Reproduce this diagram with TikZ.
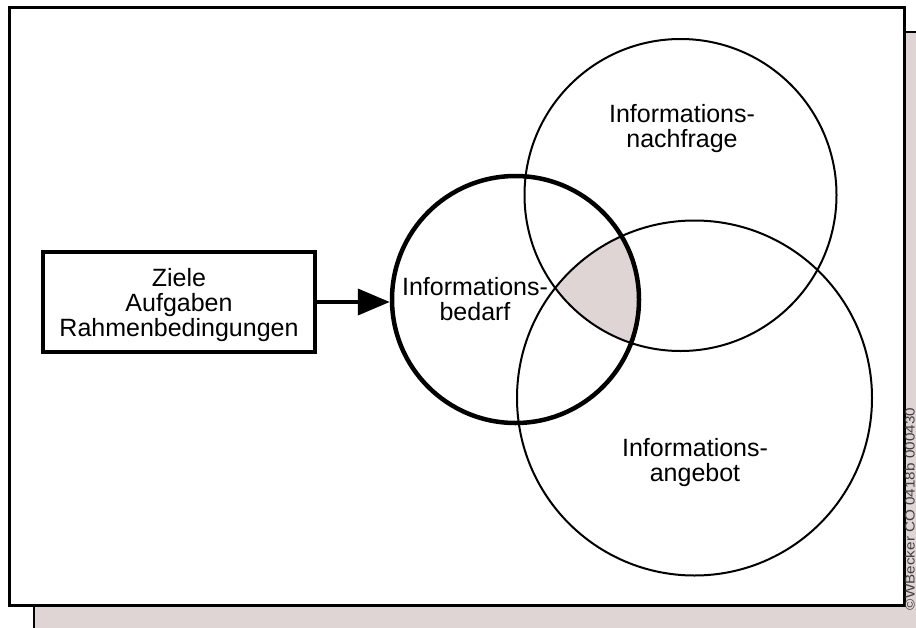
\documentclass[tikz,border=0pt]{standalone}
\usepackage{fontspec}
\setmainfont{Liberation Sans}
\usetikzlibrary{arrows.meta}
\definecolor{pinkfill}{RGB}{224,213,213}
\begin{document}
\begin{tikzpicture}[x=1pt,y=-1pt,
  lbl/.style={font=\fontsize{25}{25}\selectfont, align=center, inner sep=0pt},
  setcirc/.style={circle, draw, line width=2pt, inner sep=0pt},
  boldcirc/.style={circle, draw, line width=4.5pt, inner sep=0pt},
  inbox/.style={draw, line width=4pt, inner sep=0pt, minimum width=272pt, minimum height=100pt},
  conn/.style={line width=4pt, -{Triangle[length=32pt,width=26pt]}}]
\useasboundingbox (0,0) rectangle (916,627);
\clip (0,0) rectangle (916,627);
% shadow and frame
\filldraw[fill=pinkfill, line width=2pt] (33.5,31.5) rectangle (950,660);
\filldraw[fill=white, line width=3pt] (9.5,7) rectangle (904.3,605.5);
% shaded triple intersection
\begin{scope}
  \clip (515.5,299.5) circle (123.5pt);
  \clip (680.5,195) circle (156pt);
  \fill[pinkfill] (694.5,398) circle (177.5pt);
\end{scope}
% circles
\node[setcirc, minimum size=312pt] (nachfrage) at (680.5,195) {};
\node[setcirc, minimum size=355pt] (angebot) at (694.5,398) {};
\node[boldcirc, minimum size=247pt] (bedarf) at (515.5,299.5) {};
% labels
\node[lbl] (tnachfrage) at (682,129) {Informations-\\nachfrage};
\node[lbl] (tbedarf) at (475,299.4) {Informations-\\bedarf};
\node[lbl] (tangebot) at (695,463) {Informations-\\angebot};
% box and arrow
\node[inbox] (box) at (179,302) {};
\node[lbl] (boxtext) at (179,305.5) {Ziele\\Aufgaben\\Rahmenbedingungen};
\draw[conn] (box.east) -- (box.east -| bedarf.west);
% copyright
\node[rotate=90, anchor=base, font=\fontsize{13.5}{13.5}\selectfont, text=black!75, inner sep=0pt] (copy) at (914.5,509) {\scalebox{1.13}[1]{©WBecker CO 0418b 000430}};
\end{tikzpicture}
\end{document}
